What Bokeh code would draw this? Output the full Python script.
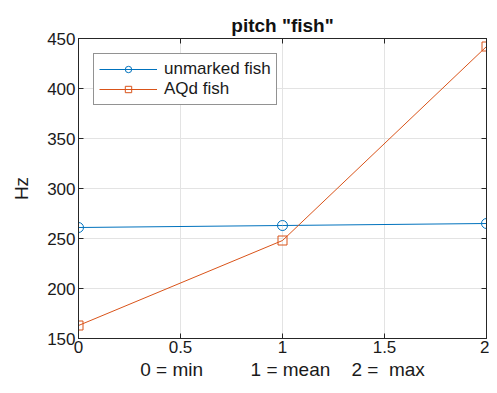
from bokeh.plotting import figure
from bokeh.models import LinearAxis, Range1d, FixedTicker, Legend, LegendItem
from bokeh.embed import file_html
from bokeh.resources import INLINE

x_vals = [0, 1, 2]
unmarked_fish = [261, 263, 265]
aqd_fish = [163, 248, 442]
x_ticks = [0, 0.5, 1, 1.5, 2]
y_ticks = [150, 200, 250, 300, 350, 400, 450]

BLUE = "#0072BD"
ORANGE = "#D95319"
FONT = "Liberation Sans"
INK = "#262626"

p = figure(width=489, height=385, output_backend="svg", toolbar_location=None,
           x_range=Range1d(0, 2), y_range=Range1d(150, 450),
           min_border_left=78, min_border_right=3, min_border_top=38, min_border_bottom=47,
           title='pitch "fish"')
p.title.align = "center"
p.title.text_font = FONT
p.title.text_font_size = "19px"
p.title.text_font_style = "bold"
p.title.text_color = "#111111"
p.title.offset = 2
p.title.standoff = 5

p.outline_line_color = INK
p.outline_line_width = 1
p.background_fill_color = "white"
p.border_fill_color = "white"

for ax in [p.xaxis[0], p.yaxis[0]]:
    ax.major_tick_in = 5
    ax.major_tick_out = 0
    ax.minor_tick_line_color = None
    ax.axis_line_color = INK
    ax.major_tick_line_color = INK
    ax.major_label_text_font = FONT
    ax.major_label_text_font_size = "17px"
    ax.major_label_text_color = "#1a1a1a"
    ax.axis_label_text_font = FONT
    ax.axis_label_text_font_size = "19px"
    ax.axis_label_text_font_style = "normal"
    ax.axis_label_text_color = "#1a1a1a"

p.xaxis[0].ticker = FixedTicker(ticks=x_ticks)
p.yaxis[0].ticker = FixedTicker(ticks=y_ticks)
p.xaxis[0].major_label_overrides = {0: "0", 0.5: "0.5", 1: "1", 1.5: "1.5", 2: "2"}
p.xaxis[0].axis_label = ("0 = min" + "\u00a0" * 9 + "1 = mean" + "\u00a0" * 4
                         + "2 =" + "\u00a0" * 2 + "max")
p.yaxis[0].axis_label = "Hz"
p.xaxis[0].major_label_standoff = 2
p.yaxis[0].major_label_standoff = 3
p.xaxis[0].axis_label_standoff = 3
p.yaxis[0].axis_label_standoff = 12

for loc in ["right", "above"]:
    ticks = y_ticks if loc == "right" else x_ticks
    ax = LinearAxis(ticker=FixedTicker(ticks=ticks),
                    major_label_overrides={t: "" for t in ticks},
                    major_tick_in=5, major_tick_out=0,
                    minor_tick_line_color=None, axis_line_color=INK,
                    major_tick_line_color=INK, major_label_standoff=0)
    p.add_layout(ax, loc)

p.xgrid.ticker = FixedTicker(ticks=x_ticks)
p.ygrid.ticker = FixedTicker(ticks=y_ticks)
p.grid.grid_line_color = "#e3e3e3"
p.grid.grid_line_width = 1

l1 = p.line(x_vals, unmarked_fish, line_color=BLUE, line_width=1)
m1 = p.scatter(x_vals, unmarked_fish, marker="circle", size=10, line_color=BLUE,
               fill_color=None, line_width=1)
l2 = p.line(x_vals, aqd_fish, line_color=ORANGE, line_width=1)
m2 = p.scatter(x_vals, aqd_fish, marker="square", size=9, line_color=ORANGE,
               fill_color=None, line_width=1)

legend = Legend(items=[LegendItem(label="unmarked fish", renderers=[l1, m1]),
                       LegendItem(label="AQd fish", renderers=[l2, m2])],
                location="top_left")
legend.margin = 15
legend.padding = 5
legend.spacing = 0
legend.label_height = 16
legend.glyph_height = 16
legend.glyph_width = 58
legend.label_standoff = 7
legend.label_text_font = FONT
legend.label_text_font_size = "17px"
legend.label_text_color = "#1a1a1a"
legend.border_line_color = INK
legend.border_line_width = 1
legend.background_fill_alpha = 1
p.add_layout(legend)

open("out.html", "w").write(file_html(p, INLINE))
